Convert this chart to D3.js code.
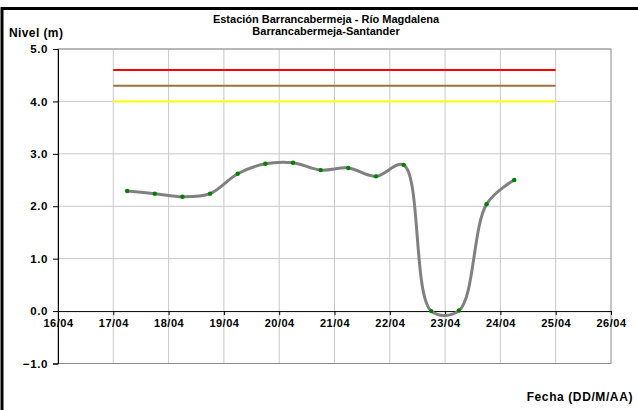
<!DOCTYPE html>
<html>
<head>
<meta charset="utf-8">
<script src="https://cdn.jsdelivr.net/npm/d3@7"></script>
<style>
  html, body { margin: 0; padding: 0; background: #fff; }
  svg { display: block; }
</style>
</head>
<body>
<script>
// day-of-month (fraction = hour of reading)
const readingDays = [17.25, 17.75, 18.25, 18.75, 19.25, 19.75, 20.25, 20.75, 21.25, 21.75, 22.25, 22.75, 23.25, 23.75, 24.25];
const levels = [2.29, 2.24, 2.18, 2.24, 2.62, 2.81, 2.83, 2.69, 2.73, 2.57, 2.79, 0.0, 0.01, 2.04, 2.50];

const tickDays = [16, 17, 18, 19, 20, 21, 22, 23, 24, 25, 26];
const tickLabels = ["16/04", "17/04", "18/04", "19/04", "20/04", "21/04", "22/04", "23/04", "24/04", "25/04", "26/04"];
const yTicks = [-1, 0, 1, 2, 3, 4, 5];

// alert thresholds
const thresholdNames = ["roja", "naranja", "amarilla"];
const thresholdValues = [4.6, 4.3, 4.0];
const thresholdColors = ["#ff0000", "#a0703c", "#ffff00"];
const thresholdSpan = [17, 25];

const W = 638, H = 410;
const FONT = "'Liberation Sans', Arial, sans-serif";
const svg = d3.select("body").append("svg")
    .attr("width", W)
    .attr("height", H)
    .style("font-family", FONT);

const x = d3.scaleLinear().domain([16, 26]).range([58, 611]);
const y = d3.scaleLinear().domain([-1, 5]).range([363.5, 49]);

// outer frame (runs off right and bottom edges)
svg.append("path")
    .attr("d", `M2,${H + 5}L2,8.5L${W + 5},8.5`)
    .attr("fill", "none")
    .attr("stroke", "#000")
    .attr("stroke-width", 3);

// gridlines
svg.append("g")
  .selectAll("line")
  .data(yTicks.filter(d => d !== 0 && d !== -1))
  .join("line")
    .attr("x1", x(16)).attr("x2", x(26))
    .attr("y1", d => y(d)).attr("y2", d => y(d))
    .attr("stroke", "#c8c8c8")
    .attr("stroke-width", 1);

svg.append("g")
  .selectAll("line")
  .data(tickDays.slice(1, -1))
  .join("line")
    .attr("x1", d => x(d)).attr("x2", d => x(d))
    .attr("y1", y(5)).attr("y2", y(-1))
    .attr("stroke", "#c8c8c8")
    .attr("stroke-width", 1);

// plot border
svg.append("rect")
    .attr("x", x(16)).attr("y", y(5))
    .attr("width", x(26) - x(16))
    .attr("height", y(-1) - y(5))
    .attr("fill", "none")
    .attr("stroke", "#8c8c8c")
    .attr("stroke-width", 1);

// left axis
const yAxis = d3.axisLeft(y)
    .tickValues(yTicks)
    .tickFormat(d3.format(".1f"))
    .tickSize(5)
    .tickPadding(5);

const gy = svg.append("g")
    .attr("transform", `translate(${x(16)},0)`)
    .call(yAxis);
gy.select(".domain").attr("stroke", "#000");
gy.selectAll(".tick line").attr("stroke", "#000");
gy.selectAll("text")
    .attr("font-size", 11.5)
    .attr("font-weight", "bold")
    .attr("font-family", FONT)
    .attr("letter-spacing", 0.6)
    .attr("fill", "#000");

// bottom axis at zero
const xAxis = d3.axisBottom(x)
    .tickValues(tickDays)
    .tickFormat((d, i) => tickLabels[i])
    .tickSize(4)
    .tickSizeOuter(0)
    .tickPadding(4);

const gx = svg.append("g")
    .attr("transform", `translate(0,${y(0)})`)
    .call(xAxis);
gx.select(".domain").attr("stroke", "#000");
gx.selectAll(".tick line").attr("stroke", "#000");
gx.selectAll("text")
    .attr("font-size", 11)
    .attr("font-weight", "bold")
    .attr("font-family", FONT)
    .attr("letter-spacing", 0.5)
    .attr("fill", "#000");

// threshold lines
svg.append("g")
  .selectAll("line")
  .data(thresholdValues)
  .join("line")
    .attr("x1", x(thresholdSpan[0])).attr("x2", x(thresholdSpan[1]))
    .attr("y1", d => y(d)).attr("y2", d => y(d))
    .attr("stroke", (d, i) => thresholdColors[i])
    .attr("stroke-width", 2);

// level series
const pts = readingDays.map((d, i) => [d, levels[i]]);
const line = d3.line()
    .x(d => x(d[0]))
    .y(d => y(d[1]))
    .curve(d3.curveCatmullRom.alpha(0.5));

svg.append("path")
    .datum(pts)
    .attr("d", line)
    .attr("fill", "none")
    .attr("stroke", "#808080")
    .attr("stroke-width", 3);

svg.append("g")
  .selectAll("circle")
  .data(pts)
  .join("circle")
    .attr("cx", d => x(d[0]))
    .attr("cy", d => y(d[1]))
    .attr("r", 2.2)
    .attr("fill", "#008000");

// titles
const title = svg.append("text")
    .attr("x", 326)
    .attr("text-anchor", "middle")
    .attr("font-size", 11)
    .attr("font-weight", "bold");
title.append("tspan").attr("x", 326).attr("y", 23).text("Estación Barrancabermeja - Río Magdalena");
title.append("tspan").attr("x", 326).attr("y", 35).text("Barrancabermeja-Santander");

svg.append("text")
    .attr("x", 9).attr("y", 37)
    .attr("font-size", 12)
    .attr("font-weight", "bold")
    .attr("letter-spacing", 0.4)
    .text("Nivel (m)");

svg.append("text")
    .attr("x", 633).attr("y", 401)
    .attr("text-anchor", "end")
    .attr("font-size", 12)
    .attr("font-weight", "bold")
    .attr("letter-spacing", 0.6)
    .text("Fecha (DD/M/AA)");
</script>
</body>
</html>
